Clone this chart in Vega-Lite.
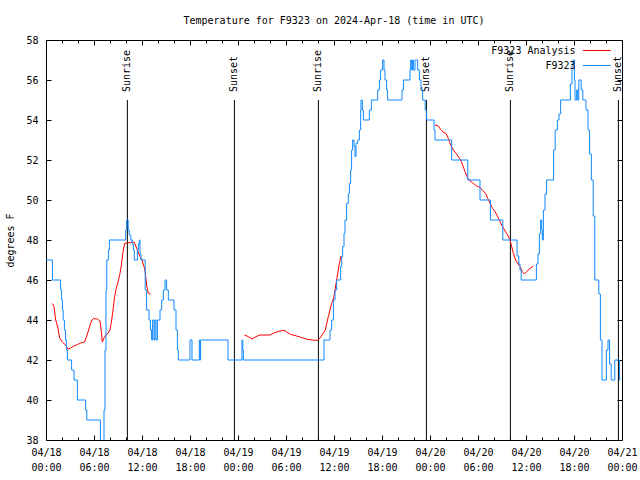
{
  "$schema": "https://vega.github.io/schema/vega-lite/v6.json",
  "width": 576,
  "height": 400,
  "autosize": {"type": "none"},
  "padding": {"left": 46, "top": 40, "right": 18, "bottom": 40},
  "background": "white",
  "title": {"text": "Temperature for F9323 on 2024-Apr-18 (time in UTC)", "font": "DejaVu Sans Mono", "fontSize": 10, "fontWeight": "normal", "color": "black", "anchor": "middle", "baseline": "bottom", "offset": -1},
  "config": {
    "view": {"stroke": "black", "strokeWidth": 1},
    "axis": {"domain": false, "grid": false, "labelFont": "DejaVu Sans Mono", "labelFontSize": 10, "labelColor": "black", "titleFont": "DejaVu Sans Mono", "titleFontSize": 10, "titleFontWeight": "normal", "titleColor": "black", "tickColor": "black"},
    "legend": {"labelFont": "DejaVu Sans Mono", "labelFontSize": 10, "labelColor": "black"}
  },
  "datasets": {
    "sun": [
      {"hour": 10.17, "event": "Sunrise"},
      {"hour": 23.55, "event": "Sunset"},
      {"hour": 34.05, "event": "Sunrise"},
      {"hour": 47.55, "event": "Sunset"},
      {"hour": 58.05, "event": "Sunrise"},
      {"hour": 71.55, "event": "Sunset"}
    ],
    "analysis": [
      {"hour": 0.79, "temp": 44.83, "seg": 1}, {"hour": 1.0, "temp": 44.67, "seg": 1}, {"hour": 1.21, "temp": 44.0, "seg": 1}, {"hour": 1.5, "temp": 43.6, "seg": 1}, {"hour": 1.71, "temp": 43.1, "seg": 1}, {"hour": 2.04, "temp": 42.9, "seg": 1}, {"hour": 2.46, "temp": 42.75, "seg": 1}, {"hour": 2.75, "temp": 42.53, "seg": 1}, {"hour": 3.08, "temp": 42.6, "seg": 1}, {"hour": 3.5, "temp": 42.7, "seg": 1}, {"hour": 3.92, "temp": 42.77, "seg": 1}, {"hour": 4.33, "temp": 42.85, "seg": 1}, {"hour": 4.83, "temp": 42.9, "seg": 1}, {"hour": 5.0, "temp": 43.1, "seg": 1}, {"hour": 5.25, "temp": 43.4, "seg": 1}, {"hour": 5.5, "temp": 43.75, "seg": 1}, {"hour": 5.75, "temp": 44.0, "seg": 1}, {"hour": 5.92, "temp": 44.07, "seg": 1}, {"hour": 6.42, "temp": 44.05, "seg": 1}, {"hour": 6.75, "temp": 43.95, "seg": 1}, {"hour": 6.92, "temp": 43.4, "seg": 1}, {"hour": 7.04, "temp": 42.9, "seg": 1}, {"hour": 7.25, "temp": 43.1, "seg": 1}, {"hour": 7.46, "temp": 43.25, "seg": 1}, {"hour": 7.75, "temp": 43.33, "seg": 1}, {"hour": 8.0, "temp": 43.5, "seg": 1}, {"hour": 8.21, "temp": 44.0, "seg": 1}, {"hour": 8.38, "temp": 44.5, "seg": 1}, {"hour": 8.58, "temp": 45.17, "seg": 1}, {"hour": 8.79, "temp": 45.58, "seg": 1}, {"hour": 9.0, "temp": 45.9, "seg": 1}, {"hour": 9.25, "temp": 46.33, "seg": 1}, {"hour": 9.42, "temp": 46.75, "seg": 1}, {"hour": 9.63, "temp": 47.4, "seg": 1}, {"hour": 9.83, "temp": 47.83, "seg": 1}, {"hour": 10.17, "temp": 47.85, "seg": 1}, {"hour": 10.58, "temp": 47.88, "seg": 1}, {"hour": 11.0, "temp": 47.9, "seg": 1}, {"hour": 11.33, "temp": 47.6, "seg": 1}, {"hour": 11.75, "temp": 47.17, "seg": 1}, {"hour": 12.0, "temp": 47.0, "seg": 1}, {"hour": 12.375, "temp": 46.5, "seg": 1}, {"hour": 12.58, "temp": 45.75, "seg": 1}, {"hour": 12.79, "temp": 45.33, "seg": 1}, {"hour": 13.08, "temp": 45.3, "seg": 1},
      {"hour": 24.79, "temp": 43.25, "seg": 2}, {"hour": 25.29, "temp": 43.17, "seg": 2}, {"hour": 25.79, "temp": 43.05, "seg": 2}, {"hour": 26.25, "temp": 43.17, "seg": 2}, {"hour": 26.75, "temp": 43.25, "seg": 2}, {"hour": 28.0, "temp": 43.25, "seg": 2}, {"hour": 28.6, "temp": 43.37, "seg": 2}, {"hour": 29.25, "temp": 43.45, "seg": 2}, {"hour": 29.75, "temp": 43.48, "seg": 2}, {"hour": 30.17, "temp": 43.38, "seg": 2}, {"hour": 30.58, "temp": 43.28, "seg": 2}, {"hour": 31.33, "temp": 43.2, "seg": 2}, {"hour": 31.96, "temp": 43.12, "seg": 2}, {"hour": 32.67, "temp": 43.03, "seg": 2}, {"hour": 33.33, "temp": 43.0, "seg": 2}, {"hour": 33.92, "temp": 42.98, "seg": 2}, {"hour": 34.25, "temp": 43.1, "seg": 2}, {"hour": 34.6, "temp": 43.3, "seg": 2}, {"hour": 34.9, "temp": 43.5, "seg": 2}, {"hour": 35.29, "temp": 44.17, "seg": 2}, {"hour": 35.71, "temp": 44.83, "seg": 2}, {"hour": 36.0, "temp": 45.17, "seg": 2}, {"hour": 36.25, "temp": 45.83, "seg": 2}, {"hour": 36.54, "temp": 46.5, "seg": 2}, {"hour": 36.67, "temp": 46.83, "seg": 2}, {"hour": 36.88, "temp": 47.2, "seg": 2},
      {"hour": 48.63, "temp": 53.75, "seg": 3}, {"hour": 49.04, "temp": 53.7, "seg": 3}, {"hour": 49.33, "temp": 53.53, "seg": 3}, {"hour": 49.67, "temp": 53.38, "seg": 3}, {"hour": 50.0, "temp": 53.33, "seg": 3}, {"hour": 50.29, "temp": 53.08, "seg": 3}, {"hour": 50.58, "temp": 52.75, "seg": 3}, {"hour": 50.92, "temp": 52.5, "seg": 3}, {"hour": 51.25, "temp": 52.33, "seg": 3}, {"hour": 51.54, "temp": 52.17, "seg": 3}, {"hour": 51.83, "temp": 52.0, "seg": 3}, {"hour": 52.08, "temp": 51.75, "seg": 3}, {"hour": 52.38, "temp": 51.42, "seg": 3}, {"hour": 52.67, "temp": 51.13, "seg": 3}, {"hour": 53.0, "temp": 50.95, "seg": 3}, {"hour": 53.42, "temp": 50.83, "seg": 3}, {"hour": 53.83, "temp": 50.7, "seg": 3}, {"hour": 54.25, "temp": 50.63, "seg": 3}, {"hour": 54.58, "temp": 50.47, "seg": 3}, {"hour": 54.96, "temp": 50.33, "seg": 3}, {"hour": 55.21, "temp": 50.08, "seg": 3}, {"hour": 55.5, "temp": 49.83, "seg": 3}, {"hour": 55.83, "temp": 49.58, "seg": 3}, {"hour": 56.13, "temp": 49.42, "seg": 3}, {"hour": 56.46, "temp": 49.17, "seg": 3}, {"hour": 56.75, "temp": 48.92, "seg": 3}, {"hour": 57.04, "temp": 48.7, "seg": 3}, {"hour": 57.38, "temp": 48.45, "seg": 3}, {"hour": 57.71, "temp": 48.25, "seg": 3}, {"hour": 58.0, "temp": 48.0, "seg": 3}, {"hour": 58.21, "temp": 47.67, "seg": 3}, {"hour": 58.42, "temp": 47.33, "seg": 3}, {"hour": 58.71, "temp": 47.0, "seg": 3}, {"hour": 58.96, "temp": 46.83, "seg": 3}, {"hour": 59.25, "temp": 46.67, "seg": 3}, {"hour": 59.54, "temp": 46.42, "seg": 3}, {"hour": 59.79, "temp": 46.3, "seg": 3}, {"hour": 60.08, "temp": 46.42, "seg": 3}, {"hour": 60.5, "temp": 46.58, "seg": 3}, {"hour": 60.92, "temp": 46.7, "seg": 3}
    ],
    "obs": [
      {"hour": 0, "temp": 47}, {"hour": 0.8, "temp": 46}, {"hour": 1.83, "temp": 45.5}, {"hour": 1.95, "temp": 45}, {"hour": 2.05, "temp": 44.5}, {"hour": 2.15, "temp": 44}, {"hour": 2.3, "temp": 43.5}, {"hour": 2.45, "temp": 43}, {"hour": 2.55, "temp": 42.5}, {"hour": 2.67, "temp": 42}, {"hour": 3.2, "temp": 41.5}, {"hour": 3.5, "temp": 41}, {"hour": 3.92, "temp": 40}, {"hour": 4.96, "temp": 39.5}, {"hour": 5.1, "temp": 39}, {"hour": 6.8, "temp": 37}, {"hour": 7.25, "temp": 39.5}, {"hour": 7.375, "temp": 42.5}, {"hour": 7.5, "temp": 45.5}, {"hour": 7.6, "temp": 47}, {"hour": 7.8, "temp": 47.5}, {"hour": 7.92, "temp": 48}, {"hour": 9.96, "temp": 48.5}, {"hour": 10.08, "temp": 49}, {"hour": 10.27, "temp": 48.5}, {"hour": 10.4, "temp": 48.25}, {"hour": 10.6, "temp": 48}, {"hour": 10.79, "temp": 47.8}, {"hour": 10.92, "temp": 47.5}, {"hour": 11.04, "temp": 47}, {"hour": 11.42, "temp": 47.5}, {"hour": 11.55, "temp": 47.8}, {"hour": 11.67, "temp": 48}, {"hour": 11.75, "temp": 47.3}, {"hour": 11.875, "temp": 47}, {"hour": 12.4, "temp": 45.5}, {"hour": 12.58, "temp": 44.5}, {"hour": 12.875, "temp": 44}, {"hour": 13.05, "temp": 43.5}, {"hour": 13.2, "temp": 43}, {"hour": 13.33, "temp": 44}, {"hour": 13.5, "temp": 43}, {"hour": 13.62, "temp": 44}, {"hour": 13.75, "temp": 43}, {"hour": 13.92, "temp": 44}, {"hour": 14.25, "temp": 44.5}, {"hour": 14.46, "temp": 45}, {"hour": 14.67, "temp": 45.5}, {"hour": 14.875, "temp": 46}, {"hour": 15.08, "temp": 45.5}, {"hour": 15.29, "temp": 45}, {"hour": 16.0, "temp": 44.5}, {"hour": 16.25, "temp": 43.5}, {"hour": 16.42, "temp": 42.5}, {"hour": 16.54, "temp": 42}, {"hour": 18.0, "temp": 43}, {"hour": 18.25, "temp": 42}, {"hour": 19.17, "temp": 43}, {"hour": 19.25, "temp": 42}, {"hour": 19.33, "temp": 43}, {"hour": 22.75, "temp": 42}, {"hour": 24.5, "temp": 43}, {"hour": 24.6, "temp": 42.5}, {"hour": 24.67, "temp": 42}, {"hour": 34.75, "temp": 43}, {"hour": 35.5, "temp": 43.5}, {"hour": 35.71, "temp": 44}, {"hour": 35.92, "temp": 45}, {"hour": 36.125, "temp": 45.5}, {"hour": 36.33, "temp": 46}, {"hour": 36.83, "temp": 46.67}, {"hour": 36.96, "temp": 47.17}, {"hour": 37.08, "temp": 47.67}, {"hour": 37.25, "temp": 48.33}, {"hour": 37.375, "temp": 49}, {"hour": 37.58, "temp": 49.83}, {"hour": 37.79, "temp": 50.33}, {"hour": 37.92, "temp": 50.83}, {"hour": 38.08, "temp": 51.5}, {"hour": 38.2, "temp": 52.5}, {"hour": 38.33, "temp": 53}, {"hour": 38.5, "temp": 52.67}, {"hour": 38.625, "temp": 52.17}, {"hour": 38.75, "temp": 52.83}, {"hour": 38.96, "temp": 53}, {"hour": 39.17, "temp": 53.5}, {"hour": 39.33, "temp": 54.5}, {"hour": 39.375, "temp": 55}, {"hour": 39.54, "temp": 54.5}, {"hour": 39.67, "temp": 54}, {"hour": 40.42, "temp": 54.5}, {"hour": 40.67, "temp": 55}, {"hour": 41.46, "temp": 55.5}, {"hour": 41.67, "temp": 56}, {"hour": 41.83, "temp": 56.5}, {"hour": 42.08, "temp": 57}, {"hour": 42.25, "temp": 56.5}, {"hour": 42.375, "temp": 56}, {"hour": 42.58, "temp": 55.5}, {"hour": 42.7, "temp": 55}, {"hour": 44.5, "temp": 55.5}, {"hour": 44.67, "temp": 56}, {"hour": 45.5, "temp": 56.5}, {"hour": 45.58, "temp": 57}, {"hour": 45.71, "temp": 56.5}, {"hour": 45.83, "temp": 57}, {"hour": 45.92, "temp": 56.5}, {"hour": 46.125, "temp": 57}, {"hour": 46.46, "temp": 56.5}, {"hour": 46.67, "temp": 56}, {"hour": 46.875, "temp": 55.5}, {"hour": 47.08, "temp": 55}, {"hour": 47.4, "temp": 54.5}, {"hour": 47.58, "temp": 54}, {"hour": 48.5, "temp": 53.5}, {"hour": 48.625, "temp": 53}, {"hour": 50.71, "temp": 52}, {"hour": 52.72, "temp": 51}, {"hour": 54.25, "temp": 50}, {"hour": 55.55, "temp": 49}, {"hour": 57.1, "temp": 48}, {"hour": 58.88, "temp": 47.2}, {"hour": 59.1, "temp": 46.8}, {"hour": 59.25, "temp": 46.5}, {"hour": 59.4, "temp": 46}, {"hour": 61.3, "temp": 46.8}, {"hour": 61.5, "temp": 47.3}, {"hour": 61.67, "temp": 48.3}, {"hour": 61.83, "temp": 49}, {"hour": 61.96, "temp": 48.5}, {"hour": 62.04, "temp": 48}, {"hour": 62.17, "temp": 49.5}, {"hour": 62.375, "temp": 50.3}, {"hour": 62.58, "temp": 51}, {"hour": 63.45, "temp": 52.5}, {"hour": 63.65, "temp": 53.5}, {"hour": 63.92, "temp": 54}, {"hour": 64.125, "temp": 54.3}, {"hour": 64.33, "temp": 55}, {"hour": 65.55, "temp": 55.8}, {"hour": 65.75, "temp": 56.8}, {"hour": 65.9, "temp": 57}, {"hour": 66.05, "temp": 56}, {"hour": 66.125, "temp": 55}, {"hour": 66.33, "temp": 55.5}, {"hour": 66.46, "temp": 55}, {"hour": 66.6, "temp": 56}, {"hour": 66.9, "temp": 55.5}, {"hour": 67.1, "temp": 55}, {"hour": 67.5, "temp": 54.5}, {"hour": 67.75, "temp": 53.5}, {"hour": 67.95, "temp": 52.3}, {"hour": 68.17, "temp": 51}, {"hour": 68.4, "temp": 49.2}, {"hour": 68.6, "temp": 46}, {"hour": 69.1, "temp": 45.3}, {"hour": 69.3, "temp": 43}, {"hour": 69.5, "temp": 41}, {"hour": 70.05, "temp": 42.5}, {"hour": 70.25, "temp": 43}, {"hour": 70.45, "temp": 41.8}, {"hour": 70.65, "temp": 41}, {"hour": 71.1, "temp": 42}, {"hour": 71.7, "temp": 41}, {"hour": 71.8, "temp": 41}
    ]
  },
  "resolve": {"axis": {"x": "independent", "y": "independent"}},
  "layer": [
    {
      "data": {"name": "sun"},
      "mark": {"type": "rule", "color": "black", "strokeWidth": 1},
      "encoding": {
        "x": {"field": "hour", "type": "quantitative", "scale": {"domain": [0, 72], "nice": false, "zero": false}, "axis": null},
        "y": {"datum": 55, "type": "quantitative", "scale": {"domain": [38, 58], "nice": false, "zero": false}, "axis": null},
        "y2": {"datum": 38}
      }
    },
    {
      "data": {"name": "sun"},
      "mark": {"type": "text", "angle": 270, "align": "left", "baseline": "middle", "dx": 8, "font": "DejaVu Sans Mono", "fontSize": 10, "color": "black"},
      "encoding": {
        "x": {"field": "hour", "type": "quantitative", "axis": null},
        "y": {"datum": 55, "type": "quantitative", "axis": null},
        "text": {"field": "event"}
      }
    },
    {
      "data": {"name": "analysis"},
      "transform": [{"calculate": "'F9323 Analysis'", "as": "series"}],
      "mark": {"type": "line", "strokeWidth": 1, "clip": true},
      "encoding": {
        "x": {"field": "hour", "type": "quantitative", "axis": {"orient": "bottom", "title": null, "values": [0,2,4,6,8,10,12,14,16,18,20,22,24,26,28,30,32,34,36,38,40,42,44,46,48,50,52,54,56,58,60,62,64,66,68,70,72], "labelExpr": "datum.value % 6 === 0 ? ['04/' + (18 + floor(datum.value / 24)), (datum.value % 24 < 10 ? '0' : '') + (datum.value % 24) + ':00'] : ''", "tickSize": {"condition": {"test": "datum.value % 6 === 0", "value": -5}, "value": -3}, "labelPadding": 12, "labelLineHeight": 15, "labelFlush": false, "labelOverlap": false}},
        "y": {"field": "temp", "type": "quantitative", "axis": {"orient": "left", "title": "degrees F", "values": [38,40,42,44,46,48,50,52,54,56,58], "tickSize": -5, "labelPadding": 13, "titlePadding": 10, "labelFlush": false}},
        "detail": {"field": "seg"},
        "color": {"field": "series", "type": "nominal", "scale": {"domain": ["F9323 Analysis", "F9323"], "range": ["#ff0000", "#0e88ff"]}, "legend": {"orient": "none", "legendX": 545.3, "legendY": 5, "title": null, "symbolType": "M-3,0H3", "symbolSize": 87, "symbolStrokeWidth": 1, "rowPadding": 4, "labelAlign": "right", "labelOffset": -26.7}}
      }
    },
    {
      "data": {"name": "obs"},
      "transform": [{"calculate": "'F9323'", "as": "series"}],
      "mark": {"type": "line", "strokeWidth": 1, "interpolate": "step-after", "clip": true},
      "encoding": {
        "x": {"field": "hour", "type": "quantitative", "axis": null},
        "y": {"field": "temp", "type": "quantitative", "axis": null},
        "color": {"field": "series", "type": "nominal"}
      }
    },
    {
      "data": {"name": "sun"},
      "mark": {"type": "point", "opacity": 0},
      "encoding": {
        "x": {"field": "hour", "type": "quantitative", "axis": {"orient": "top", "title": null, "labels": false, "values": [0,2,4,6,8,10,12,14,16,18,20,22,24,26,28,30,32,34,36,38,40,42,44,46,48,50,52,54,56,58,60,62,64,66,68,70,72], "tickSize": {"condition": {"test": "datum.value % 6 === 0", "value": -5}, "value": -3}}},
        "y": {"datum": 50, "type": "quantitative", "axis": {"orient": "right", "title": null, "labels": false, "values": [38,40,42,44,46,48,50,52,54,56,58], "tickSize": -5}}
      }
    }
  ]
}
